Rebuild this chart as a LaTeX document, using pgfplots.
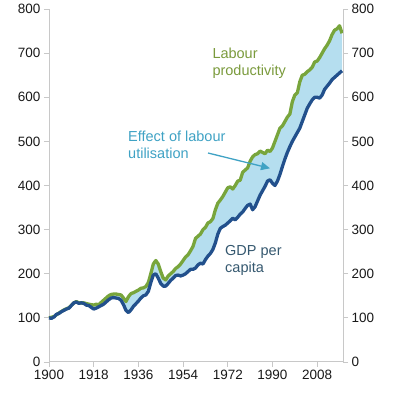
\documentclass[border=0pt]{standalone}
\usepackage{fontspec}
\setmainfont{Liberation Sans}
\usepackage{pgfplots}
\pgfplotsset{compat=1.18}
\usepgfplotslibrary{fillbetween}
\usetikzlibrary{arrows.meta}
\definecolor{gline}{HTML}{78A53C}
\definecolor{bline}{HTML}{22508C}
\definecolor{fillb}{HTML}{B5DEEF}
\definecolor{teal}{HTML}{3FA2C4}
\definecolor{gtext}{HTML}{7A9A3C}
\definecolor{btext}{HTML}{35586F}
\definecolor{axgray}{HTML}{C8C8C8}
\begin{document}
\begin{tikzpicture}
\pgfplotstableread{
year val
1900 100
1901 99
1902 102
1903 108
1904 110
1905 114
1906 117
1907 120
1908 122
1909 128
1910 134
1911 136
1912 133
1913 134
1914 133
1915 129
1916 128
1917 124
1918 120
1919 122
1920 125
1921 128
1922 131
1923 136
1924 141
1925 145
1926 146
1927 145
1928 144
1929 140
1930 130
1931 117
1932 112
1933 118
1934 126
1935 132
1936 138
1937 145
1938 150
1939 152
1940 160
1941 180
1942 197
1943 200
1944 190
1945 178
1946 172
1947 172
1948 178
1949 185
1950 190
1951 196
1952 197
1953 195
1954 197
1955 200
1956 205
1957 210
1958 210
1959 213
1960 220
1961 224
1962 222
1963 232
1964 240
1965 246
1966 255
1967 270
1968 290
1969 303
1970 307
1971 310
1972 315
1973 320
1974 326
1975 322
1976 328
1977 335
1978 340
1979 348
1980 355
1981 358
1982 345
1983 352
1984 365
1985 378
1986 388
1987 398
1988 410
1989 413
1990 405
1991 400
1992 410
1993 425
1994 443
1995 460
1996 475
1997 488
1998 500
1999 510
2000 520
2001 530
2002 545
2003 560
2004 575
2005 585
2006 594
2007 600
2008 600
2009 598
2010 605
2011 618
2012 625
2013 632
2014 640
2015 645
2016 650
2017 655
2018 660
}\gdp
\pgfplotstableread{
year val
1900 100
1902 103
1904 111
1906 118
1908 123
1910 134
1911 137
1912 134
1914 134
1916 131
1918 129
1919 131
1920 130
1921 135
1922 140
1923 145
1924 150
1925 153
1926 154
1927 154
1928 153
1929 152
1930 145
1931 137
1932 148
1933 155
1934 157
1935 160
1936 163
1937 167
1938 168
1939 171
1940 180
1941 200
1942 222
1943 230
1944 222
1945 205
1946 190
1947 186
1948 195
1949 200
1950 205
1951 212
1952 216
1953 222
1954 230
1955 238
1956 243
1957 252
1958 262
1959 280
1960 285
1961 290
1962 300
1963 305
1964 315
1965 318
1966 325
1967 345
1968 360
1969 367
1970 375
1971 385
1972 395
1973 397
1974 392
1975 400
1976 410
1977 412
1978 430
1979 435
1980 440
1981 455
1982 465
1983 470
1984 472
1985 478
1986 475
1987 472
1988 480
1989 477
1990 485
1991 500
1992 515
1993 530
1994 535
1995 545
1996 555
1997 562
1998 590
1999 605
2000 610
2001 635
2002 650
2003 652
2004 658
2005 662
2006 668
2007 680
2008 682
2009 690
2010 700
2011 710
2012 718
2013 728
2014 742
2015 752
2016 755
2017 762
2018 745
}\lp
\pgfplotsset{
  common/.style={
    scale only axis, width=294bp, height=353bp,
    at={(49bp,31bp)}, anchor=south west,
    xmin=1900, xmax=2018.4, ymin=0, ymax=800,
    ytick={0,100,...,800},
    tick align=outside, major tick length=5bp,
    tick style={draw=axgray, line width=0.8bp},
    axis line style={draw=axgray, line width=1bp, -},
    x axis line style={-}, y axis line style={-},
    ticklabel style={font=\fontsize{13.5bp}{16bp}\selectfont, text=black!90},
    /pgf/number format/assume math mode=true,
    /pgf/number format/1000 sep={},
  }
}
\begin{axis}[common,
  axis x line*=bottom, axis y line*=left,
  xtick={1900,1918,...,2008},
  clip=false]
\addplot[draw=none, name path=G, forget plot] table[x=year,y=val]{\gdp};
\addplot[draw=none, name path=L, forget plot] table[x=year,y=val]{\lp};
\addplot[fillb, draw=none] fill between[of=L and G];
\addplot[gline, line width=3.3bp, line join=round] table[x=year,y=val]{\lp};
\addplot[bline, line width=3.3bp, line join=round] table[x=year,y=val]{\gdp};
\end{axis}
\begin{axis}[common,
  axis y line*=right, axis x line=none,
  xtick=\empty]
\addplot[draw=none] coordinates {(1900,0) (2018,800)};
\end{axis}
\begin{scope}[x=1bp,y=1bp,font=\fontsize{14.5bp}{17bp}\selectfont]
\node[anchor=base west, inner sep=0, text=teal] at (128,251.3) {Effect of labour};
\node[anchor=base west, inner sep=0, text=teal] at (128,234.7) {utilisation};
\node[anchor=base west, inner sep=0, text=gtext] at (212.3,334.7) {Labour};
\node[anchor=base west, inner sep=0, text=gtext] at (212.3,318) {productivity};
\node[anchor=base west, inner sep=0, text=btext] at (225,137.3) {GDP per};
\node[anchor=base west, inner sep=0, text=btext] at (225,120.7) {capita};
\draw[teal, line width=1.3bp, -{Triangle[length=9bp,width=8bp]}] (208,240) -- (270,224.7);
\path (0,0) rectangle (395,393);
\end{scope}
\end{tikzpicture}
\end{document}
